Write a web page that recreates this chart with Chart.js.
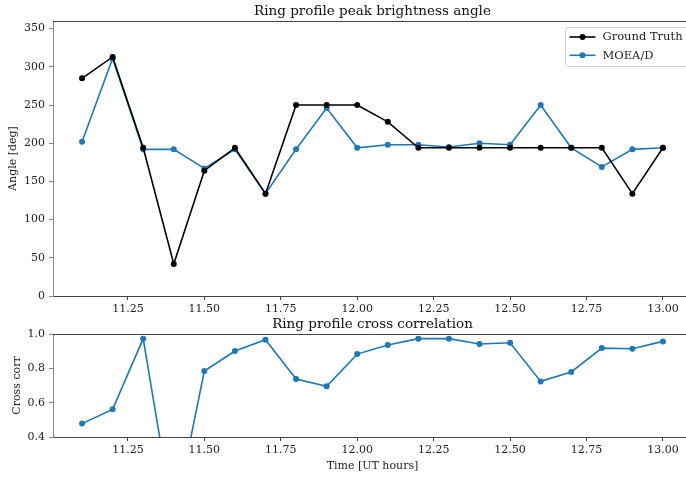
<!DOCTYPE html>
<html>
<head>
<meta charset="utf-8">
<script src="https://cdn.jsdelivr.net/npm/chart.js@4/dist/chart.umd.min.js"></script>
<style>
  html, body { margin: 0; padding: 0; background: #fff; }
  #wrap { position: relative; width: 686px; height: 479px; overflow: hidden; }
  #wrap canvas { position: absolute; left: 0; }
</style>
</head>
<body>
<div id="wrap">
  <canvas id="angleChart" width="700" height="320" style="top:0"></canvas>
  <canvas id="corrChart" width="700" height="169" style="top:310px"></canvas>
</div>
<script>
// Time stamps (UT hours)
const times = [11.1, 11.2, 11.3, 11.4, 11.5, 11.6, 11.7, 11.8, 11.9, 12.0,
               12.1, 12.2, 12.3, 12.4, 12.5, 12.6, 12.7, 12.8, 12.9, 13.0];

// Peak brightness angle [deg]
const groundTruth = [285, 313, 194, 42, 164, 194, 134, 250, 250, 250,
                     228, 194, 194, 194, 194, 194, 194, 194, 134, 194];
const moead = [202, 311, 192, 192, 167, 192, 134, 192, 246, 194,
               198, 198, 195, 200, 198, 250, 194, 169, 192, 194];

// Cross correlation
const crossCorr = [0.478, 0.561, 0.973, -0.09, 0.784, 0.901, 0.967, 0.738, 0.695, 0.883,
                   0.936, 0.973, 0.973, 0.942, 0.949, 0.724, 0.779, 0.918, 0.914, 0.957];

// Tick labels
const xTicks = [11.25, 11.5, 11.75, 12.0, 12.25, 12.5, 12.75, 13.0];
const angleTicks = [0, 50, 100, 150, 200, 250, 300, 350];
const corrTicks = [0.4, 0.6, 0.8, 1.0];

const FONT = "'DejaVu Serif', 'Liberation Serif', serif";
const BLACK = '#000000';
const BLUE = '#1f77b4';

function pairs(xs, ys) {
  return xs.map((x, i) => ({ x: x, y: ys[i] }));
}

function lineSet(label, data, color) {
  return {
    label: label,
    data: data,
    borderColor: color,
    backgroundColor: color,
    borderWidth: 1.6,
    pointRadius: 3,
    pointBorderWidth: 0,
    pointBackgroundColor: color,
    tension: 0
  };
}

// top/right spine + title centred over the axes (matplotlib style)
const framePlugin = {
  id: 'frame',
  afterDraw(chart, args, opts) {
    const a = chart.chartArea;
    const ctx = chart.ctx;
    ctx.save();
    ctx.strokeStyle = '#444';
    ctx.lineWidth = 1;
    ctx.beginPath();
    ctx.moveTo(a.left, a.top + 0.5);
    ctx.lineTo(a.right, a.top + 0.5);
    ctx.moveTo(a.right - 0.5, a.top);
    ctx.lineTo(a.right - 0.5, a.bottom);
    ctx.stroke();
    if (opts.text) {
      ctx.fillStyle = '#111';
      ctx.font = '13.5px ' + FONT;
      ctx.textAlign = 'center';
      ctx.textBaseline = 'alphabetic';
      ctx.fillText(opts.text, (a.left + a.right) / 2, a.top - 6);
    }
    ctx.restore();
  }
};

// legend box in the upper right corner
const boxLegend = {
  id: 'boxLegend',
  afterDraw(chart) {
    const a = chart.chartArea;
    const ctx = chart.ctx;
    const x0 = a.right - 126.5, y0 = a.top + 6.5, w = 140, h = 39;
    ctx.save();
    ctx.fillStyle = 'rgba(255,255,255,0.85)';
    ctx.strokeStyle = '#d0d0d0';
    ctx.lineWidth = 1;
    ctx.beginPath();
    ctx.roundRect(x0, y0, w, h, 3);
    ctx.fill();
    ctx.stroke();
    ctx.font = '11.5px ' + FONT;
    ctx.textBaseline = 'middle';
    chart.data.datasets.forEach((ds, i) => {
      const cy = y0 + 9.5 + i * 18.3;
      ctx.strokeStyle = ds.borderColor;
      ctx.lineWidth = 1.6;
      ctx.beginPath();
      ctx.moveTo(x0 + 4, cy);
      ctx.lineTo(x0 + 30, cy);
      ctx.stroke();
      ctx.fillStyle = ds.borderColor;
      ctx.beginPath();
      ctx.arc(x0 + 17, cy, 3, 0, Math.PI * 2);
      ctx.fill();
      ctx.fillStyle = '#222';
      ctx.fillText(ds.label, x0 + 37, cy + 0.5);
    });
    ctx.restore();
  }
};

function xScale(height, withTitle) {
  return {
    type: 'linear',
    min: 11.005,
    max: 13.095,
    afterBuildTicks: s => { s.ticks = xTicks.map(v => ({ value: v })); },
    afterFit: s => { s.height = height; },
    border: { color: '#444', width: 1 },
    grid: { drawOnChartArea: false, drawTicks: true, tickLength: 4, tickColor: '#444' },
    ticks: {
      color: '#222',
      padding: 3,
      maxRotation: 0,
      font: { family: FONT, size: 11 },
      callback: v => v.toFixed(2)
    },
    title: {
      display: withTitle,
      text: 'Time [UT hours]',
      color: '#222',
      font: { family: FONT, size: 11 },
      padding: { top: 0, bottom: 6 }
    }
  };
}

function yScale(min, max, tickVals, digits, label, titlePad) {
  return {
    min: min,
    max: max,
    afterBuildTicks: s => { s.ticks = tickVals.map(v => ({ value: v })); },
    afterFit: s => { s.width = 53; },
    border: { color: '#888', width: 1 },
    grid: { drawOnChartArea: false, drawTicks: true, tickLength: 4, tickColor: '#888' },
    ticks: {
      color: '#222',
      padding: 4,
      font: { family: FONT, size: 11 },
      callback: v => v.toFixed(digits)
    },
    title: {
      display: true,
      text: label,
      color: '#222',
      font: { family: FONT, size: 11 },
      padding: { top: titlePad, bottom: 0 }
    }
  };
}

new Chart(document.getElementById('angleChart').getContext('2d'), {
  type: 'line',
  data: {
    datasets: [
      lineSet('Ground Truth', pairs(times, groundTruth), BLACK),
      lineSet('MOEA/D', pairs(times, moead), BLUE)
    ]
  },
  options: {
    responsive: false,
    animation: false,
    layout: { padding: { left: 0, right: 8, top: 21, bottom: 0 } },
    plugins: {
      legend: { display: false },
      tooltip: { enabled: false },
      frame: { text: 'Ring profile peak brightness angle' }
    },
    scales: {
      x: xScale(24, false),
      y: yScale(0, 360, angleTicks, 0, 'Angle [deg]', 7)
    }
  },
  plugins: [framePlugin, boxLegend]
});

new Chart(document.getElementById('corrChart').getContext('2d'), {
  type: 'line',
  data: {
    datasets: [lineSet('MOEA/D', pairs(times, crossCorr), BLUE)]
  },
  options: {
    responsive: false,
    animation: false,
    layout: { padding: { left: 0, right: 8, top: 24, bottom: 0 } },
    plugins: {
      legend: { display: false },
      tooltip: { enabled: false },
      frame: { text: 'Ring profile cross correlation' }
    },
    scales: {
      x: xScale(42, true),
      y: yScale(0.4, 1.0, corrTicks, 1, 'Cross corr', 11)
    }
  },
  plugins: [framePlugin]
});
</script>
</body>
</html>
